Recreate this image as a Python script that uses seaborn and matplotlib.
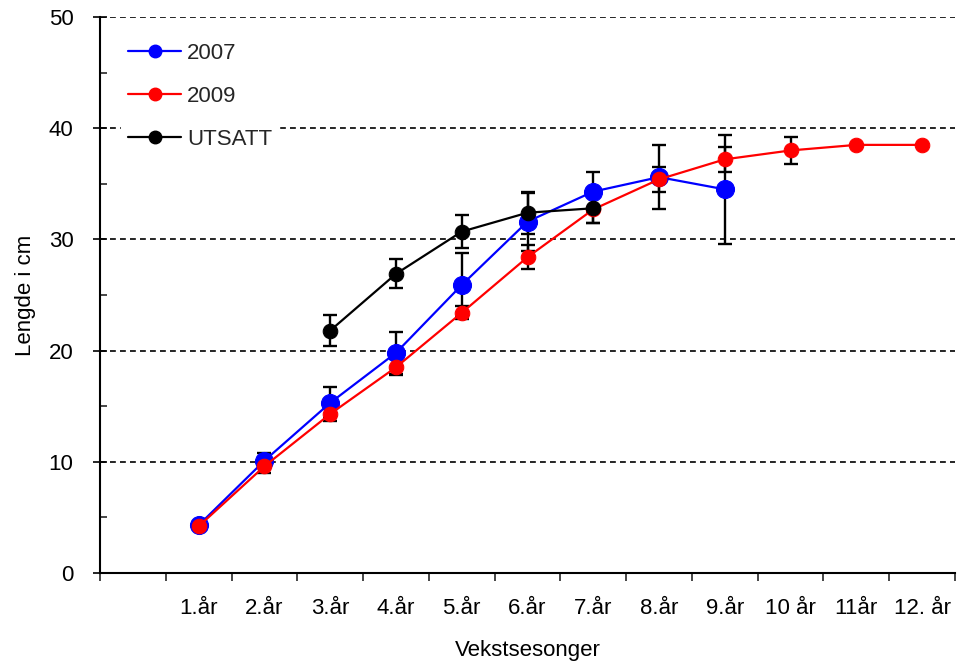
import numpy as np
import pandas as pd
import matplotlib
matplotlib.use("Agg")
import matplotlib.pyplot as plt
from matplotlib.lines import Line2D
from matplotlib.ticker import MultipleLocator, FixedLocator, NullFormatter, FixedFormatter
import seaborn as sns

# ---- data ----
labels = ["1.år", "2.år", "3.år", "4.år", "5.år", "6.år", "7.år", "8.år",
          "9.år", "10 år", "11år", "12. år"]
nan = np.nan
y2007 = [4.3, 10.1, 15.3, 19.8, 25.9, 31.6, 34.3, 35.6, 34.5, nan, nan, nan]
e2007 = [0.3, 0.7, 1.4, 1.9, 2.9, 2.6, 1.8, 2.9, 4.9, nan, nan, nan]
y2009 = [4.2, 9.6, 14.3, 18.5, 23.4, 28.4, 32.7, 35.4, 37.2, 38.0, 38.5, 38.5]
e2009 = [0.2, 0.6, 0.6, 0.7, 0.6, 1.1, 1.25, 1.15, 1.1, 1.2, nan, nan]
yUts = [nan, nan, 21.8, 26.9, 30.7, 32.4, 32.8, nan, nan, nan, nan, nan]
eUts = [nan, nan, 1.4, 1.3, 1.5, 1.9, 1.3, nan, nan, nan, nan, nan]
series_names = ["2007", "2009", "UTSATT"]
colors = ["#0000FF", "#FF0000", "#000000"]

sns.set_theme(style="white")
plt.rcParams['font.family'] = ['Liberation Sans', 'DejaVu Sans']

fig = plt.figure(figsize=(9.58, 6.67), dpi=100)
ax = fig.add_axes([100/958, (667-573)/667, 855/958, (573-17)/667])

pos = np.arange(len(labels)) + 1.5
series = [(y2007, e2007, 13, 1.6), (y2009, e2009, 10.5, 1.6), (yUts, eUts, 10.5, 1.6)]

for (yv, ev, ms, lw), name, col in zip(series, series_names, colors):
    df = pd.DataFrame({"x": pos, "y": yv, "e": ev})
    d = df.dropna(subset=["y"])
    de = df.dropna(subset=["y", "e"])
    ax.errorbar(de["x"], de["y"], yerr=de["e"], fmt="none", ecolor="black",
                elinewidth=1.7, capsize=5, capthick=1.7, zorder=3)
    sns.lineplot(data=d, x="x", y="y", ax=ax, color=col, linewidth=lw,
                 marker="o", markersize=ms, markeredgecolor=col,
                 legend=False, zorder=4, errorbar=None, sort=False)

# gridlines
for v in [10, 20, 30, 40, 50]:
    ax.axhline(v, color="black", linestyle=(0, (3.5, 2.5)), linewidth=1.2, zorder=1)

ax.set_xlim(0, 13)
ax.set_ylim(0, 50)

# spines
for s in ["top", "right"]:
    ax.spines[s].set_visible(False)
for s in ["left", "bottom"]:
    ax.spines[s].set_color("black")
    ax.spines[s].set_linewidth(1.5)

# y ticks
ax.yaxis.set_major_locator(MultipleLocator(10))
ax.yaxis.set_minor_locator(MultipleLocator(5))
ax.tick_params(axis="y", which="major", direction="inout", length=10, width=1.2,
               labelsize=16, pad=14, left=True, colors="black")
ax.tick_params(axis="y", which="minor", direction="in", length=5, width=1.2, left=True)

# x ticks: marks at integers, labels at half-positions
ax.xaxis.set_major_locator(FixedLocator(np.arange(0, 14)))
ax.xaxis.set_major_formatter(NullFormatter())
ax.xaxis.set_minor_locator(FixedLocator(pos))
ax.xaxis.set_minor_formatter(FixedFormatter(labels))
ax.tick_params(axis="x", which="major", direction="out", length=6, width=1.2, bottom=True)
ax.tick_params(axis="x", which="minor", length=0, labelsize=16, pad=18, bottom=True,
               labelcolor="black")

ax.set_xlabel("Vekstsesonger", fontsize=16, color="black", labelpad=15)
ax.set_ylabel("Lengde i cm", fontsize=16, color="black", labelpad=9)

handles = [Line2D([0], [0], color=c, marker="o", markersize=9, linewidth=1.6)
           for c in colors]
leg = ax.legend(handles, series_names, loc="upper left", bbox_to_anchor=(0.025, 0.965),
                frameon=True, fontsize=16, handlelength=2.4, handletextpad=0.25,
                labelspacing=0.98, borderpad=0.3, borderaxespad=0)
leg.get_frame().set_facecolor("white")
leg.get_frame().set_edgecolor("white")
leg.get_frame().set_alpha(1)
leg.set_zorder(5)

fig.savefig("out.png", dpi=100, facecolor="white")
